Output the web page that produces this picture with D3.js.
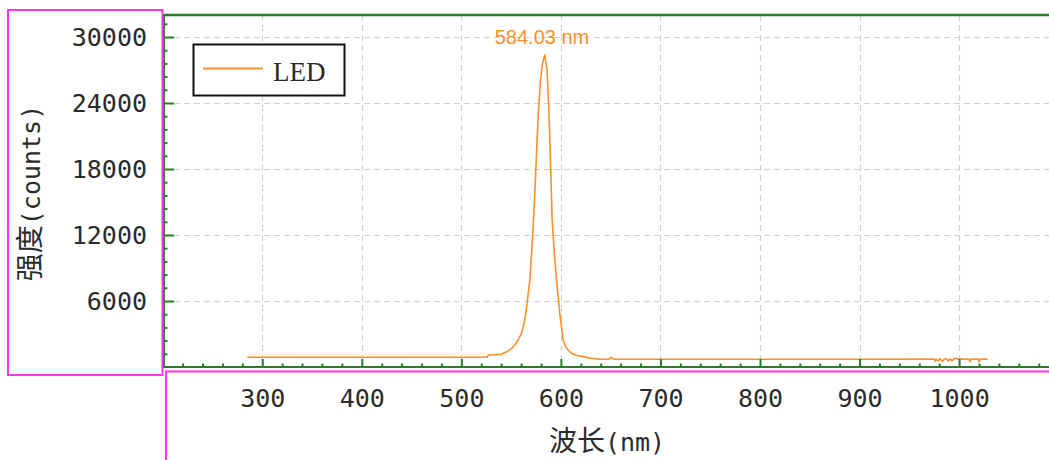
<!DOCTYPE html>
<html>
<head>
<meta charset="utf-8">
<script src="https://cdn.jsdelivr.net/npm/d3@7"></script>
<style>
  html, body { margin: 0; padding: 0; background: #fff; }
  svg { display: block; }
</style>
</head>
<body>
<svg id="chart" width="1049" height="460"></svg>
<script>
// ---- data ----
const wavelengths = [285, 526, 527, 540, 542, 546, 548.7, 551, 553.7, 557, 560.4, 563.7, 566, 568.8, 570.5, 572.1, 573.8, 575.5, 577.1, 579.5, 581.5, 583.8, 586.1, 587.8, 589.5, 591.2, 593.9, 596.2, 598.9, 602.2, 605.6, 610.6, 616, 622.3, 630, 639, 648, 650.5, 653, 700, 800, 900, 975, 976, 977, 979, 981, 983, 985, 987, 989, 991, 993, 995, 997, 999, 1001, 1010, 1011, 1012, 1019, 1020, 1021, 1028.6];
const intensities = [880, 880, 1090, 1150, 1245, 1400, 1545, 1750, 2000, 2455, 3060, 4270, 5790, 7910, 10340, 12750, 15790, 19430, 22750, 26090, 27600, 28360, 27000, 23660, 18820, 13360, 9730, 7300, 4880, 2455, 1700, 1245, 1050, 940, 800, 720, 700, 880, 700, 700, 700, 700, 720, 520, 720, 560, 760, 500, 700, 780, 540, 740, 560, 760, 800, 720, 720, 720, 480, 720, 720, 480, 720, 720];
const seriesName = "LED";
const peakLabel = "584.03 nm";
const xTicks = [300, 400, 500, 600, 700, 800, 900, 1000];
const yTicks = [6000, 12000, 18000, 24000, 30000];
const xTitle = ["波长", "(nm)"];
const yTitle = ["强度", "(counts)"];

(function () {
// ---- layout ----
const pLeft = 164, pRight = 1049, pTop = 15, pBottom = 367;
const green = "#267f26", orange = "#ff8f26", magenta = "#ff33ff";
const monoFont = "'DejaVu Sans Mono', monospace";
const cjkFont = "'Noto Sans CJK SC', sans-serif";
const textCol = "#2b2b2b";

const svg = d3.select("#chart");

const x = d3.scaleLinear().domain([201.3, 1090.3]).range([pLeft, pRight]);
const y = d3.scaleLinear().domain([0, 32000]).range([pBottom, pTop]);

// grid
const grid = svg.append("g").attr("stroke", "#d2d2d2").attr("stroke-width", 1.2).attr("stroke-dasharray", "6,4");
grid.selectAll(".vg").data(xTicks).enter().append("line")
  .attr("x1", d => Math.round(x(d)) + 0.5).attr("x2", d => Math.round(x(d)) + 0.5)
  .attr("y1", pTop).attr("y2", pBottom);
grid.selectAll(".hg").data(yTicks).enter().append("line")
  .attr("y1", d => Math.round(y(d)) + 0.5).attr("y2", d => Math.round(y(d)) + 0.5)
  .attr("x1", pLeft).attr("x2", pRight);

// data line
const pts = wavelengths.map((w, i) => [w, intensities[i]]);
svg.append("path").datum(pts)
  .attr("fill", "none").attr("stroke", orange).attr("stroke-width", 1.6)
  .attr("stroke-linejoin", "round")
  .attr("d", d3.line().x(d => x(d[0])).y(d => y(d[1])));

// peak label
svg.append("text").attr("x", 542).attr("y", 44).attr("text-anchor", "middle")
  .attr("font-family", "'Liberation Sans', Arial, sans-serif").attr("font-size", 20)
  .attr("fill", orange).text(peakLabel);

// axes - minor ticks
const yMinor = d3.range(0, 32001, 1200).filter(v => v % 6000 !== 0);
const xMinor = d3.range(220, 1081, 20).filter(v => v % 100 !== 0);
svg.append("g").attr("transform", `translate(${pLeft},0)`)
  .call(d3.axisLeft(y).tickValues(yMinor).tickSize(-3.5).tickFormat(""))
  .call(g => g.select(".domain").remove())
  .selectAll("line").attr("stroke", green).attr("stroke-width", 2);
svg.append("g").attr("transform", `translate(0,${pBottom})`)
  .call(d3.axisBottom(x).tickValues(xMinor).tickSize(-3.5).tickFormat(""))
  .call(g => g.select(".domain").remove())
  .selectAll("line").attr("stroke", green).attr("stroke-width", 2);

// major axes
const yAx = svg.append("g").attr("transform", `translate(${pLeft},0)`)
  .call(d3.axisLeft(y).tickValues(yTicks).tickSize(-10).tickPadding(17).tickFormat(d3.format("d")))
  .call(g => g.select(".domain").remove());
yAx.selectAll("line").attr("stroke", green).attr("stroke-width", 2);
yAx.selectAll("text").attr("font-family", monoFont).attr("font-size", 25).attr("fill", textCol);

const xAx = svg.append("g").attr("transform", `translate(0,${pBottom})`)
  .call(d3.axisBottom(x).tickValues(xTicks).tickSize(-8).tickPadding(22).tickFormat(d3.format("d")))
  .call(g => g.select(".domain").remove());
xAx.selectAll("line").attr("stroke", green).attr("stroke-width", 2);
xAx.selectAll("text").attr("font-family", monoFont).attr("font-size", 25).attr("fill", textCol);

// frame lines
svg.append("line").attr("x1", pLeft).attr("x2", pRight).attr("y1", pTop).attr("y2", pTop)
  .attr("stroke", green).attr("stroke-width", 2.5);
svg.append("line").attr("x1", pLeft).attr("x2", pLeft).attr("y1", pTop - 1).attr("y2", pBottom + 1)
  .attr("stroke", green).attr("stroke-width", 2);
svg.append("line").attr("x1", pLeft).attr("x2", pRight).attr("y1", pBottom).attr("y2", pBottom)
  .attr("stroke", green).attr("stroke-width", 2);

// titles
const xt = svg.append("text").attr("x", 607).attr("y", 451).attr("text-anchor", "middle").attr("fill", textCol);
xt.append("tspan").attr("font-family", cjkFont).attr("font-size", 28).text(xTitle[0]);
xt.append("tspan").attr("font-family", monoFont).attr("font-size", 25).text(xTitle[1]);

const yt = svg.append("text").attr("transform", "translate(40,193) rotate(-90)")
  .attr("text-anchor", "middle").attr("fill", textCol);
yt.append("tspan").attr("font-family", cjkFont).attr("font-size", 28).text(yTitle[0]);
yt.append("tspan").attr("font-family", monoFont).attr("font-size", 25).text(yTitle[1]);

// legend
svg.append("rect").attr("x", 193.5).attr("y", 44.5).attr("width", 151).attr("height", 51)
  .attr("fill", "#fff").attr("stroke", "#111").attr("stroke-width", 2);
svg.append("line").attr("x1", 203).attr("x2", 263).attr("y1", 68.5).attr("y2", 68.5)
  .attr("stroke", orange).attr("stroke-width", 2);
svg.append("text").attr("x", 273).attr("y", 81).attr("font-family", "'Liberation Serif', serif")
  .attr("font-size", 27).attr("fill", "#2a2a2a").text(seriesName);

// magenta boxes
svg.append("rect").attr("x", 8).attr("y", 10).attr("width", 154.5).attr("height", 365)
  .attr("fill", "none").attr("stroke", magenta).attr("stroke-width", 2);
svg.append("rect").attr("x", 166).attr("y", 371.5).attr("width", 900).attr("height", 120)
  .attr("fill", "none").attr("stroke", magenta).attr("stroke-width", 2);
})();
</script>
</body>
</html>
